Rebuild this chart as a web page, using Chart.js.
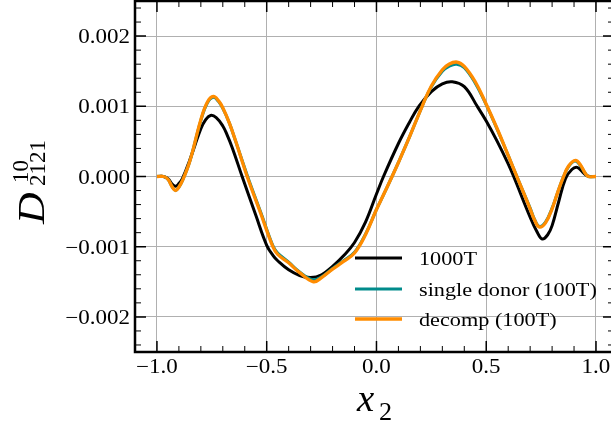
<!DOCTYPE html>
<html>
<head>
<meta charset="utf-8">
<script src="https://cdn.jsdelivr.net/npm/chart.js@4"></script>
<style>
  html, body { margin: 0; padding: 0; background: #fff; overflow: hidden; }
  #wrap { width: 611px; height: 423px; overflow: hidden; }
</style>
</head>
<body>
<div id="wrap"><canvas id="chartCanvas" width="614" height="423" style="width:614px;height:423px"></canvas></div>
<script>
// tick positions and labels
const xTicks = [-1, -0.5, 0, 0.5, 1];
const xTickLabels = ['\u22121.0', '\u22120.5', '0.0', '0.5', '1.0'];
const yTicks = [-0.002, -0.001, 0, 0.001, 0.002];
const yTickLabels = ['\u22120.002', '\u22120.001', '0.000', '0.001', '0.002'];

const seriesLabels = ['1000T', 'single donor (100T)', 'decomp (100T)'];
const seriesColors = ['#000000', '#008b8b', '#ff8c00'];

// 1000T
const x1000 = [-1.0, -0.97, -0.95, -0.93, -0.915, -0.9, -0.884, -0.85, -0.8, -0.78, -0.756, -0.73, -0.7, -0.68, -0.657, -0.612, -0.55, -0.5, -0.47, -0.45, -0.4, -0.35, -0.3, -0.25, -0.2, -0.15, -0.1, -0.05, 0.0, 0.032, 0.1, 0.15, 0.193, 0.25, 0.3, 0.345, 0.4, 0.459, 0.5, 0.55, 0.6, 0.625, 0.7, 0.73, 0.755, 0.78, 0.8, 0.83, 0.861, 0.89, 0.914, 0.94, 0.96, 0.975, 1.0];
const y1000 = [0, 0, -0.00003, -0.00011, -0.00014, -0.0001, -0.00003, 0.00024, 0.00068, 0.0008, 0.00087, 0.00084, 0.00072, 0.00059, 0.00041, 0, -0.00055, -0.00098, -0.00113, -0.0012, -0.00133, -0.00141, -0.00144, -0.0014, -0.00128, -0.00113, -0.00094, -0.00065, -0.00025, 0, 0.00047, 0.00077, 0.001, 0.00121, 0.00132, 0.00135, 0.00128, 0.001, 0.00079, 0.0005, 0.00018, 0, -0.00058, -0.00078, -0.00089, -0.00083, -0.0007, -0.00036, -0.00003, 0.0001, 0.00013, 0.00006, 0.00001, 0, 0];

// single donor (100T)
const xSingle = [-1.0, -0.97, -0.95, -0.93, -0.915, -0.9, -0.884, -0.85, -0.8, -0.77, -0.743, -0.72, -0.7, -0.67, -0.639, -0.587, -0.526, -0.47, -0.45, -0.4, -0.35, -0.29, -0.25, -0.2, -0.15, -0.1, -0.05, 0.0, 0.026, 0.071, 0.1, 0.15, 0.208, 0.25, 0.3, 0.33, 0.365, 0.4, 0.45, 0.5, 0.55, 0.6, 0.65, 0.7, 0.72, 0.742, 0.77, 0.8, 0.825, 0.85, 0.875, 0.905, 0.93, 0.95, 0.965, 1.0];
const ySingle = [0, 0, -0.00004, -0.00015, -0.0002, -0.00015, -0.00006, 0.00022, 0.0008, 0.00105, 0.00113, 0.00107, 0.00097, 0.00076, 0.00048, 0, -0.00052, -0.001, -0.00109, -0.00122, -0.00136, -0.00147, -0.00143, -0.00131, -0.0012, -0.00108, -0.00082, -0.00047, -0.0003, 0, 0.0002, 0.00056, 0.001, 0.00128, 0.0015, 0.00157, 0.0016, 0.00155, 0.00133, 0.00102, 0.00067, 0.0003, -0.00008, -0.00045, -0.00061, -0.00071, -0.00065, -0.00045, -0.00023, -0.00002, 0.00014, 0.00022, 0.00015, 0.00005, 0, 0];

// decomp (100T)
const xDecomp = [-1.0, -0.97, -0.95, -0.93, -0.915, -0.9, -0.884, -0.85, -0.8, -0.77, -0.743, -0.72, -0.7, -0.67, -0.639, -0.589, -0.528, -0.472, -0.45, -0.4, -0.35, -0.287, -0.25, -0.2, -0.15, -0.1, -0.05, 0.0, 0.026, 0.071, 0.1, 0.15, 0.208, 0.25, 0.3, 0.33, 0.367, 0.4, 0.45, 0.5, 0.55, 0.6, 0.65, 0.7, 0.72, 0.742, 0.77, 0.8, 0.825, 0.85, 0.875, 0.907, 0.93, 0.95, 0.965, 1.0];
const yDecomp = [0, 0, -0.00004, -0.00015, -0.0002, -0.00015, -0.00006, 0.00022, 0.00081, 0.00106, 0.00114, 0.00108, 0.00098, 0.00076, 0.00048, 0, -0.00052, -0.001, -0.00111, -0.00123, -0.00137, -0.0015, -0.00144, -0.00132, -0.00121, -0.00109, -0.00083, -0.00047, -0.0003, 0, 0.0002, 0.00056, 0.001, 0.00129, 0.00152, 0.0016, 0.00163, 0.00157, 0.00135, 0.00103, 0.00068, 0.0003, -0.00008, -0.00046, -0.00062, -0.00072, -0.00066, -0.00046, -0.00023, -0.00002, 0.00015, 0.00023, 0.00016, 0.00005, 0, 0];

function pts(xs, ys) {
  return xs.map((x, i) => ({ x: x, y: ys[i] }));
}

function txt(ctx, s, x, y, font, align, sx) {
  ctx.save();
  ctx.translate(x, y);
  ctx.scale(sx, 1);
  ctx.font = font;
  ctx.textAlign = align;
  ctx.textBaseline = 'alphabetic';
  ctx.fillStyle = '#000';
  ctx.fillText(s, 0, 0);
  ctx.restore();
}

const decor = {
  id: 'decor',
  afterDraw(chart) {
    const ctx = chart.ctx;
    const a = chart.chartArea;
    const xs = chart.scales.x, ys = chart.scales.y;
    ctx.save();
    ctx.strokeStyle = '#000';

    // x ticks (bottom and top), pointing in
    for (let i = -11; i <= 10; i++) {
      const px = xs.getPixelForValue(i / 10);
      const major = i % 5 === 0;
      const len = major ? 11 : 6;
      ctx.lineWidth = major ? 1.5 : 1;
      ctx.beginPath();
      ctx.moveTo(px, a.bottom); ctx.lineTo(px, a.bottom - len);
      ctx.moveTo(px, a.top); ctx.lineTo(px, a.top + len);
      ctx.stroke();
    }
    // y ticks (left and right)
    for (let i = -12; i <= 12; i++) {
      const py = ys.getPixelForValue(i * 0.0002);
      const major = i % 5 === 0;
      const len = major ? 11 : 6;
      ctx.lineWidth = major ? 1.5 : 1;
      ctx.beginPath();
      ctx.moveTo(a.left, py); ctx.lineTo(a.left + len, py);
      ctx.moveTo(a.right, py); ctx.lineTo(a.right - len, py);
      ctx.stroke();
    }

    // frame
    ctx.lineWidth = 2.5;
    ctx.strokeRect(a.left, a.top, a.right - a.left, a.bottom - a.top);

    // tick labels
    const tickFont = '20px "Liberation Serif"';
    xTicks.forEach((v, i) => {
      txt(ctx, xTickLabels[i], xs.getPixelForValue(v), 373, tickFont, 'center', 1.15);
    });
    yTicks.forEach((v, i) => {
      txt(ctx, yTickLabels[i], 130, ys.getPixelForValue(v) + 7, tickFont, 'right', 1.15);
    });

    // x axis title: x_2
    txt(ctx, 'x', 357, 411, 'italic 37px "Liberation Serif"', 'left', 1.05);
    txt(ctx, '2', 379, 420, '25px "Liberation Serif"', 'left', 1.05);

    // y axis title: D^{10}_{2121}
    ctx.save();
    ctx.translate(44, 224);
    ctx.rotate(-Math.PI / 2);
    ctx.fillStyle = '#000';
    ctx.textBaseline = 'alphabetic';
    ctx.textAlign = 'left';
    ctx.save();
    ctx.scale(1.15, 1.0);
    ctx.font = 'italic 38px "Liberation Serif"';
    ctx.fillText('D', 0, 0);
    ctx.restore();
    ctx.font = '23px "Liberation Serif"';
    ctx.fillText('10', 41, -16);
    ctx.fillText('2121', 38, 1);
    ctx.restore();

    // legend
    const rows = [258, 289, 319];
    const widths = [3, 3, 3.3];
    rows.forEach((ry, i) => {
      ctx.strokeStyle = seriesColors[i];
      ctx.lineWidth = widths[i];
      ctx.beginPath();
      ctx.moveTo(355, ry); ctx.lineTo(402, ry);
      ctx.stroke();
      txt(ctx, seriesLabels[i], 419, ry + 6.5, '19px "Liberation Serif"', 'left', 1.17);
    });

    ctx.restore();
  }
};

const ctx = document.getElementById('chartCanvas').getContext('2d');
const chart = new Chart(ctx, {
  type: 'line',
  data: {
    datasets: [
      {
        label: seriesLabels[0],
        data: pts(x1000, y1000),
        borderColor: seriesColors[0],
        borderWidth: 3,
        order: 3
      },
      {
        label: seriesLabels[1],
        data: pts(xSingle, ySingle),
        borderColor: seriesColors[1],
        borderWidth: 3,
        order: 2
      },
      {
        label: seriesLabels[2],
        data: pts(xDecomp, yDecomp),
        borderColor: seriesColors[2],
        borderWidth: 3.3,
        order: 1
      }
    ]
  },
  options: {
    responsive: false,
    animation: false,
    layout: { padding: { top: 1, left: 0, right: 0, bottom: 0 } },
    elements: {
      point: { radius: 0 },
      line: { tension: 0.4, fill: false }
    },
    plugins: {
      legend: { display: false },
      tooltip: { enabled: false }
    },
    scales: {
      x: {
        type: 'linear',
        min: -1.1,
        max: 1.082,
        afterBuildTicks: s => { s.ticks = xTicks.map(v => ({ value: v })); },
        afterFit: s => { s.height = 71; },
        ticks: { display: false },
        grid: { color: '#b0b0b0', lineWidth: 1, drawTicks: false },
        border: { display: false }
      },
      y: {
        type: 'linear',
        min: -0.0025,
        max: 0.0025,
        afterBuildTicks: s => { s.ticks = yTicks.map(v => ({ value: v })); },
        afterFit: s => { s.width = 135; },
        ticks: { display: false },
        grid: { color: '#b0b0b0', lineWidth: 1, drawTicks: false },
        border: { display: false }
      }
    }
  },
  plugins: [decor]
});
</script>
</body>
</html>
